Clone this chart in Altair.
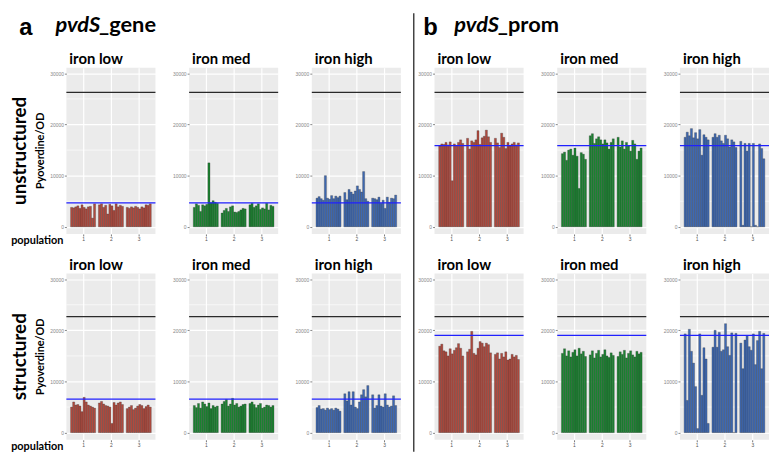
import altair as alt
import pandas as pd

# ---------------- data ----------------
populations = [1, 2, 3]
bars_per_pop = 12
row_names = ["unstructured", "structured"]
col_titles = ["iron low", "iron med", "iron high", "iron low", "iron med", "iron high"]
black_line = [26300, 22700]          # per row
blue_gene = [4700, 6550]             # per row
blue_prom = [15850, 19000]           # per row
y_ticks = [0, 10000, 20000, 30000]
y_minor = [5000, 15000, 25000]

# unstructured row
u_gene_low = [
    [3800, 3700, 3900, 4100, 3600, 4300, 3800, 3500, 3900, 4000, 1700, 4500],
    [4300, 4500, 3800, 4200, 2500, 4400, 4100, 3200, 4500, 3900, 4200, 4000],
    [3800, 3600, 3900, 3700, 4000, 3800, 3500, 3900, 3700, 4300, 4200, 4500],
]
u_gene_med = [
    [3800, 4500, 4200, 3000, 4300, 4100, 4400, 12500, 4700, 5100, 4800, 4600],
    [2700, 3200, 3600, 3000, 3900, 4100, 2900, 2800, 3000, 3300, 3600, 3500],
    [4300, 4600, 3800, 4100, 4500, 3400, 3700, 3500, 4600, 3300, 4200, 4000],
]
u_gene_high = [
    [5600, 5900, 5500, 5200, 10000, 5600, 5400, 6100, 5500, 6000, 5700, 6000],
    [6700, 5300, 7300, 6800, 6400, 7000, 8000, 7300, 6800, 10800, 5500, 5000],
    [5600, 5500, 5300, 5800, 4600, 5200, 3600, 5800, 4800, 5600, 5500, 6200],
]
u_prom_low = [
    [15800, 16200, 16100, 16500, 16000, 16600, 9000, 16200, 15900, 16500, 17000, 16300],
    [17300, 15200, 16800, 16500, 17000, 18800, 16100, 17400, 17700, 18900, 17600, 16500],
    [17300, 16400, 15500, 18300, 17500, 15300, 16500, 15800, 16200, 16500, 16000, 16400],
]
u_prom_med = [
    [14300, 14600, 13000, 15000, 15200, 14000, 15400, 13800, 7500, 14500, 14200, 13200],
    [17800, 18200, 16300, 17200, 17600, 17000, 16200, 17000, 16400, 15200, 16500, 17200],
    [17500, 15600, 16800, 15200, 16500, 15800, 14800, 16900, 16200, 13200, 14800, 15400],
]
u_prom_high = [
    [17500, 18500, 17800, 19200, 17400, 18400, 17200, 19000, 14000, 18000, 17500, 17000],
    [17500, 18200, 17500, 17900, 16800, 16300, 17900, 17200, 15600, 17000, 16600, 15500],
    [16700, 300, 16300, 14800, 16300, 0, 16300, 300, 0, 16200, 15300, 13300],
]
# structured row
s_gene_low = [
    [5000, 6000, 5400, 5500, 5200, 4100, 6900, 6000, 5400, 5200, 5000, 4800],
    [5800, 6100, 5600, 5300, 5200, 5000, 1800, 5900, 5400, 5800, 6000, 5500],
    [4700, 5000, 5300, 4500, 4800, 5200, 5500, 5300, 4700, 5100, 5400, 5000],
]
s_gene_med = [
    [5300, 4900, 5700, 4800, 6000, 5600, 5100, 5800, 4700, 5300, 5000, 5200],
    [5600, 6100, 6500, 5200, 5600, 6700, 5400, 5700, 5000, 5200, 5500, 5600],
    [5700, 6000, 5500, 4900, 5400, 5700, 4800, 5000, 5400, 5300, 5000, 5300],
]
s_gene_high = [
    [4900, 5300, 4600, 4700, 4400, 4800, 4500, 4700, 4400, 4800, 4600, 4200],
    [7600, 6200, 8000, 5400, 8000, 5000, 4700, 6000, 7400, 8400, 7000, 9200],
    [7400, 4800, 5300, 7400, 5200, 5000, 7600, 5400, 5000, 5200, 7200, 5300],
]
s_prom_low = [
    [16900, 17300, 16000, 15800, 15000, 16400, 15400, 16100, 16600, 17400, 16500, 15000],
    [15800, 16300, 19800, 15500, 15200, 16500, 17800, 17500, 16800, 17500, 17200, 15600],
    [15300, 15600, 14400, 15500, 14800, 15800, 14200, 14400, 15300, 14800, 15100, 14300],
]
s_prom_med = [
    [15500, 16400, 15000, 16000, 14800, 15700, 16200, 15000, 16500, 15400, 15900, 14900],
    [15200, 16000, 14600, 15500, 16100, 14800, 15300, 16200, 15000, 14700, 15600, 15100],
    [14900, 15800, 15300, 16100, 14600, 15500, 16000, 15200, 14800, 15900, 15400, 15700],
]
s_prom_high = [
    [19300, 6300, 20200, 15900, 13600, 9000, 800, 19300, 7300, 16600, 14400, 1800],
    [16700, 20000, 16700, 19600, 15900, 16200, 21300, 16800, 15100, 19500, 0, 19400],
    [17500, 12500, 18100, 19000, 16800, 16100, 19300, 13300, 18000, 19800, 12500, 19400],
]

rows = [
    [u_gene_low, u_gene_med, u_gene_high, u_prom_low, u_prom_med, u_prom_high],
    [s_gene_low, s_gene_med, s_gene_high, s_prom_low, s_prom_med, s_prom_high],
]
colors = ["#B24A3E", "#1A8430", "#3E69B3"] * 2

# ---------------- layout ----------------
W, H = 90, 168
FONT = "Lato"
YDOM = [-1400, 31100]


def text_layer(txt, x, y, size, angle=0, align="center", style="normal", font=FONT, color="black"):
    return alt.Chart(pd.DataFrame({"t": [txt]})).mark_text(
        align=align, baseline="middle", font=font, fontSize=size, fontWeight="bold",
        fontStyle=style, angle=angle, color=color
    ).encode(x=alt.value(x), y=alt.value(y), text="t:N")


def panel(vals, color, title, hblack, hblue, extras):
    recs = []
    bw = 0.9 / bars_per_pop
    for p, pv in zip(populations, vals):
        for i, v in enumerate(pv):
            x0 = p - 0.45 + i * bw
            recs.append({"x": x0, "x2": x0 + bw, "v": v})
    df = pd.DataFrame(recs)
    xs = alt.Scale(domain=[0.4, 3.6], nice=False, zero=False)
    ys = alt.Scale(domain=YDOM, nice=False, zero=False)
    minor = alt.Chart(pd.DataFrame({"m": y_minor})).mark_rule(color="white", strokeWidth=0.6).encode(
        y=alt.Y("m:Q", scale=ys)
    )
    bars = alt.Chart(df).mark_bar(color=color, stroke="#333333", strokeWidth=0.3).encode(
        x=alt.X("x:Q", scale=xs, axis=alt.Axis(values=populations, format="d", title=None,
                                               labelFontSize=5, labelColor="#555", tickColor="#777",
                                               tickSize=2, labelPadding=1, domain=False,
                                               grid=True, gridColor="white", gridWidth=1.2,
                                               gridOpacity=1)),
        x2="x2:Q",
        y=alt.Y("v:Q", scale=ys, axis=alt.Axis(values=y_ticks, format="d", title=None,
                                               labelFontSize=5, labelColor="#888", tickColor="#888",
                                               tickSize=2, labelPadding=1, domain=False,
                                               grid=True, gridColor="white", gridWidth=1.2,
                                               gridOpacity=1)),
        y2=alt.datum(0),
    )
    black = alt.Chart(pd.DataFrame({"h": [hblack]})).mark_rule(color="#2a2a2a", strokeWidth=1.3).encode(
        y=alt.Y("h:Q", scale=ys))
    blue = alt.Chart(pd.DataFrame({"h": [hblue]})).mark_rule(color="#2020FF", strokeWidth=1.3).encode(
        y=alt.Y("h:Q", scale=ys))
    ttl = text_layer(title, 3, -9, 15, align="left")
    return alt.layer(minor, bars, black, blue, ttl, *extras).properties(width=W, height=H)


panels = []
for r in range(2):
    for c in range(6):
        extras = []
        if c == 0:
            extras += [
                text_layer(row_names[r], -47, H / 2, 19, angle=270),
                text_layer("Pyoverdine/OD", -26, H / 2, 11, angle=270),
                text_layer("population", -3, 175, 11, align="right"),
            ]
            if r == 0:
                extras += [
                    text_layer("a", -41, -40, 24, font="Liberation Sans"),
                    text_layer("pvdS", -11, -43, 22, align="left", style="italic"),
                    text_layer("_gene", 33, -43, 22, align="left"),
                ]
        if c == 3 and r == 0:
            extras += [
                text_layer("b", -4, -40, 24, font="Liberation Sans"),
                text_layer("pvdS", 20, -43, 22, align="left", style="italic"),
                text_layer("_prom", 64, -43, 22, align="left"),
                alt.Chart(pd.DataFrame({"a": [0]})).mark_rule(color="#444", strokeWidth=1.5).encode(
                    x=alt.value(-21), y=alt.value(-55), y2=alt.value(388)),
            ]
        hb = blue_gene[r] if c < 3 else blue_prom[r]
        panels.append(panel(rows[r][c], colors[c], col_titles[c], black_line[r], hb, extras))

chart = alt.concat(*panels, columns=6, spacing=alt.RowColnumber(row=40, column=34),
                   bounds="flush").properties(
    padding={"top": 2, "left": 3, "right": 0, "bottom": 0}
).configure_view(fill="#EBEBEB", stroke=None)

chart.save("out.html", embed_options={"renderer": "svg", "actions": False})
